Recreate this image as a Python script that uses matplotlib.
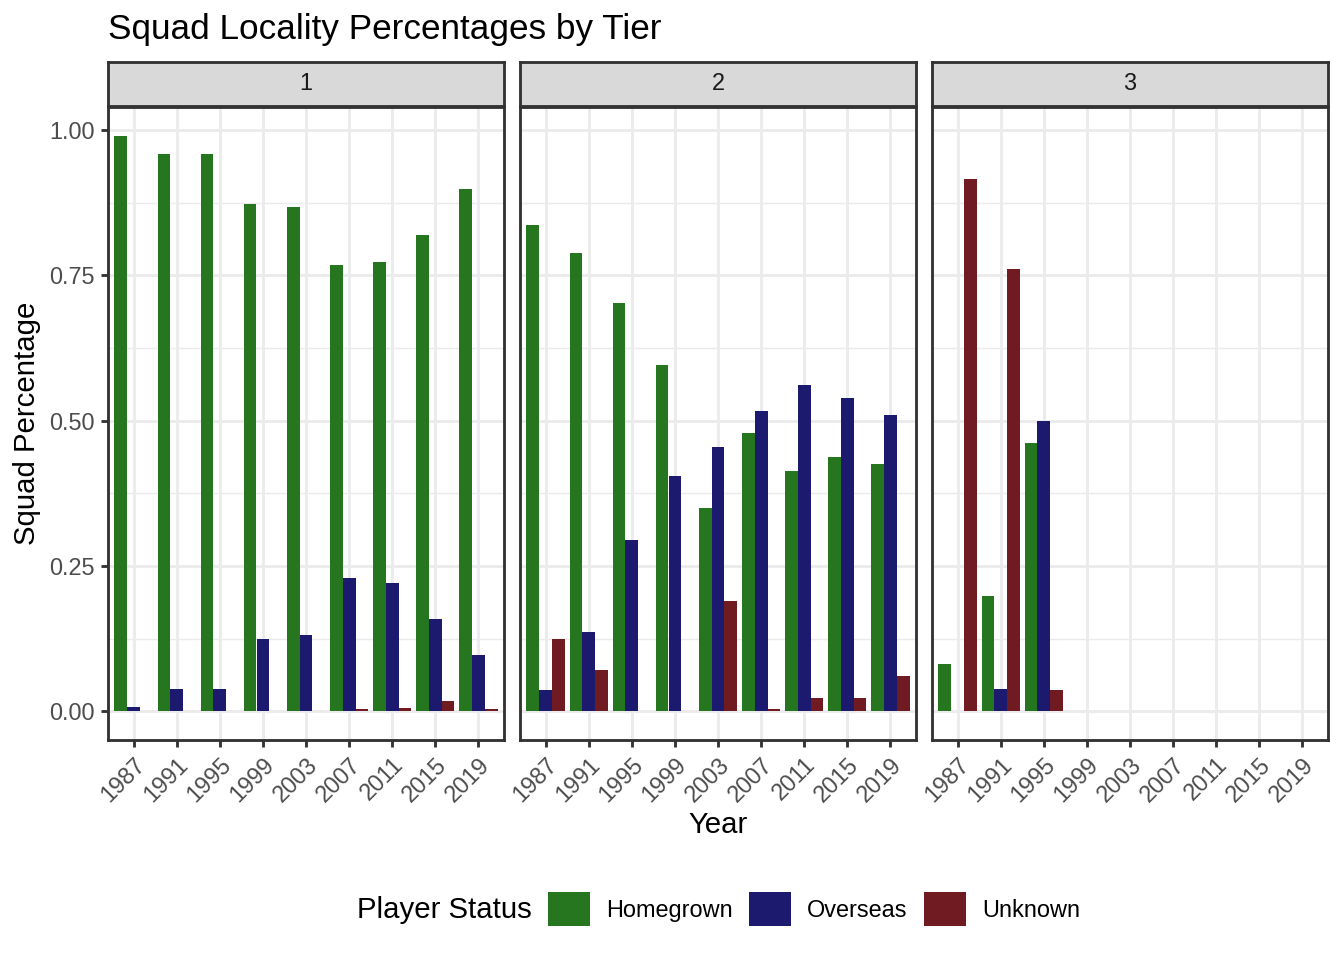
import matplotlib
matplotlib.use("Agg")
import matplotlib.pyplot as plt
from matplotlib.patches import Patch
import numpy as np

plt.rcParams['font.family'] = ['Liberation Sans', 'DejaVu Sans']

# ---- data ----
years = [1987, 1991, 1995, 1999, 2003, 2007, 2011, 2015, 2019]
tiers = ["1", "2", "3"]
statuses = ["Homegrown", "Overseas", "Unknown"]
colors = ["#267620", "#1C1A6F", "#701A22"]

tier1_homegrown = [0.990, 0.958, 0.959, 0.873, 0.867, 0.767, 0.772, 0.820, 0.899]
tier1_overseas = [0.008, 0.039, 0.039, 0.125, 0.132, 0.229, 0.220, 0.159, 0.096]
tier1_unknown = [0.0, 0.0, 0.0, 0.0, 0.0, 0.003, 0.006, 0.017, 0.003]

tier2_homegrown = [0.837, 0.789, 0.703, 0.595, 0.349, 0.478, 0.414, 0.437, 0.426]
tier2_overseas = [0.037, 0.137, 0.295, 0.404, 0.454, 0.517, 0.561, 0.539, 0.510]
tier2_unknown = [0.125, 0.071, 0.0, 0.0, 0.190, 0.003, 0.022, 0.022, 0.060]

tier3_years = [1987, 1991, 1995]
tier3_homegrown = [0.082, 0.199, 0.461]
tier3_overseas = [0.0, 0.039, 0.499]
tier3_unknown = [0.916, 0.760, 0.037]

yticks = [0.0, 0.25, 0.5, 0.75, 1.0]
ytick_labels = ["0.00", "0.25", "0.50", "0.75", "1.00"]

panel_data = [
    (years, [tier1_homegrown, tier1_overseas, tier1_unknown]),
    (years, [tier2_homegrown, tier2_overseas, tier2_unknown]),
    (tier3_years, [tier3_homegrown, tier3_overseas, tier3_unknown]),
]

# ---- layout ----
W, H, DPI = 1344, 960, 192
fig = plt.figure(figsize=(W / DPI, H / DPI), dpi=DPI)
fig.patch.set_facecolor("white")

def fx(px):
    return px / W

def fy(py):
    return 1 - py / H

panel_x = [(108, 504), (520, 916), (932, 1328)]
ptop, pbot = 107, 740
stop, sbot = 62, 106

grey20 = "#333333"
grey30 = "#4D4D4D"
grid_col = "#EBEBEB"
lw = 1.07  # ggplot linewidth 0.5

step = 4.0
bar_w = 0.3 * step
xlim = (years[0] - 0.6 * step, years[-1] + 0.6 * step)
ylim = (-0.0495, 1.0395)

for k, ((x0, x1), (yrs, series)) in enumerate(zip(panel_x, panel_data)):
    ax = fig.add_axes([fx(x0), fy(pbot), fx(x1) - fx(x0), fy(ptop) - fy(pbot)])
    ax.set_xlim(*xlim)
    ax.set_ylim(*ylim)
    for yv in [0.125, 0.375, 0.625, 0.875]:
        ax.axhline(yv, color=grid_col, lw=lw / 2, zorder=0)
    for yv in yticks:
        ax.axhline(yv, color=grid_col, lw=lw, zorder=0)
    for xv in years:
        ax.axvline(xv, color=grid_col, lw=lw, zorder=0)
    yrs_arr = np.array(yrs, dtype=float)
    for i, (vals, c) in enumerate(zip(series, colors)):
        ax.bar(yrs_arr + (i - 1) * bar_w, vals, width=bar_w, color=c,
               linewidth=0, zorder=2)
    for s in ax.spines.values():
        s.set_color(grey20)
        s.set_linewidth(lw)
        s.set_zorder(5)
    ax.set_xticks(years)
    ax.set_xticklabels([str(y) for y in years], rotation=45, ha="right",
                       va="top", rotation_mode="anchor", fontsize=8.8,
                       color=grey30)
    ax.tick_params(axis="x", length=2.75, width=lw, color=grey20, pad=2.2)
    if k == 0:
        ax.set_yticks(yticks)
        ax.set_yticklabels(ytick_labels, fontsize=8.8, color=grey30)
        ax.tick_params(axis="y", length=2.75, width=lw, color=grey20, pad=2.2)
    else:
        ax.set_yticks([])
    ax.set_facecolor("white")

    # strip
    sax = fig.add_axes([fx(x0), fy(sbot), fx(x1) - fx(x0), fy(stop) - fy(sbot)])
    sax.set_xlim(0, 1)
    sax.set_ylim(0, 1)
    sax.set_facecolor("#D9D9D9")
    sax.set_xticks([])
    sax.set_yticks([])
    for s in sax.spines.values():
        s.set_color(grey20)
        s.set_linewidth(lw)
    sax.text(0.5, 0.5, tiers[k], ha="center", va="center", fontsize=8.8,
             color="#1A1A1A")

# titles
fig.text(fx(108), fy(29), "Squad Locality Percentages by Tier", fontsize=13.2,
         ha="left", va="center", color="black")
fig.text(fx(27), fy((ptop + pbot) / 2), "Squad Percentage", fontsize=11,
         rotation=90, ha="center", va="center", color="black")
fig.text(fx(718), fy(825), "Year", fontsize=11, ha="center", va="center",
         color="black")

# legend
fig.text(fx(357), fy(910), "Player Status", fontsize=11, ha="left",
         va="center", color="black")
handles = [Patch(facecolor=c, edgecolor="none") for c in colors]
fig.legend(handles, statuses, ncol=3, loc="center left",
           bbox_to_anchor=(fx(548), fy(909)), frameon=False, fontsize=8.8,
           handlelength=1.79, handleheight=1.79, handletextpad=0.68,
           columnspacing=0.70, borderpad=0, borderaxespad=0)

fig.savefig("out.png", dpi=DPI, facecolor="white")
